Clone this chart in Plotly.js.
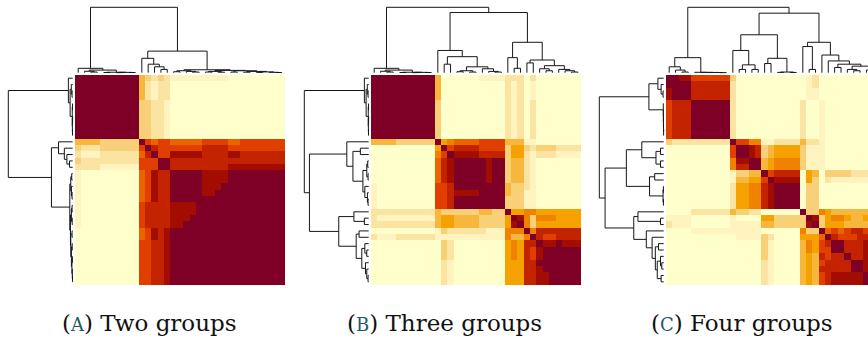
<!DOCTYPE html>
<html><head><meta charset="utf-8">
<script src="https://cdn.plot.ly/plotly-3.0.1.min.js"></script>
<style>html,body{margin:0;padding:0;background:#fff}#chart{width:868px;height:338px}</style>
</head><body><div id="chart"></div>
<script>
// colour level 0 (never together) ... 11 (always together)
const levelColors = ['#FFFFCC','#FFF3BF','#FBE3A1','#F8D078','#F7B63C','#F5A100','#F08200','#EC6400','#E03F00','#C42300','#A30C00','#7F0026'];

const captionLetters = ['A', 'B', 'C'];
const captionTexts = ['Two groups', 'Three groups', 'Four groups'];

// Panel A: co-clustering levels (33 x 33)
const matrixA = [
[11,11,11,11,11,11,11,11,11,11,4,3,2,3,2,1,1,1,1,1,1,1,1,1,0,0,0,0,0,0,0,0,0],
[11,11,11,11,11,11,11,11,11,11,4,2,1,2,2,0,0,0,0,0,0,0,0,0,0,0,0,0,0,0,0,0,0],
[11,11,11,11,11,11,11,11,11,11,4,2,1,2,2,0,0,0,0,0,0,0,0,0,0,0,0,0,0,0,0,0,0],
[11,11,11,11,11,11,11,11,11,11,4,2,1,2,2,0,0,0,0,0,0,0,0,0,0,0,0,0,0,0,0,0,0],
[11,11,11,11,11,11,11,11,11,11,3,3,2,2,1,0,0,0,0,0,0,0,0,0,0,0,0,0,0,0,0,0,0],
[11,11,11,11,11,11,11,11,11,11,3,3,2,2,1,0,0,0,0,0,0,0,0,0,0,0,0,0,0,0,0,0,0],
[11,11,11,11,11,11,11,11,11,11,3,3,2,2,1,0,0,0,0,0,0,0,0,0,0,0,0,0,0,0,0,0,0],
[11,11,11,11,11,11,11,11,11,11,3,3,2,2,1,0,0,0,0,0,0,0,0,0,0,0,0,0,0,0,0,0,0],
[11,11,11,11,11,11,11,11,11,11,3,3,2,2,1,0,0,0,0,0,0,0,0,0,0,0,0,0,0,0,0,0,0],
[11,11,11,11,11,11,11,11,11,11,3,3,2,2,1,0,0,0,0,0,0,0,0,0,0,0,0,0,0,0,0,0,0],
[4,4,4,4,3,3,3,3,3,3,11,8,7,8,8,7,7,7,7,7,8,8,8,8,7,7,8,8,8,8,8,8,8],
[3,2,2,2,3,3,3,3,3,3,8,11,9,8,8,8,8,8,8,8,9,9,9,9,8,8,8,8,8,8,8,8,8],
[2,1,1,1,2,2,2,2,2,2,7,9,11,8,8,10,10,10,10,10,9,9,9,9,10,10,9,9,9,9,9,9,9],
[3,2,2,2,2,2,2,2,2,2,8,8,8,11,11,9,9,9,9,9,9,9,9,9,9,9,9,9,9,9,9,9,9],
[2,2,2,2,1,1,1,1,1,1,8,8,8,11,11,9,9,9,9,9,9,9,9,9,10,10,10,10,10,10,10,10,10],
[1,0,0,0,0,0,0,0,0,0,7,8,10,9,9,11,11,11,11,11,10,10,10,10,11,11,11,11,11,11,11,11,11],
[1,0,0,0,0,0,0,0,0,0,7,8,10,9,9,11,11,11,11,11,10,10,10,10,11,11,11,11,11,11,11,11,11],
[1,0,0,0,0,0,0,0,0,0,7,8,10,9,9,11,11,11,11,11,10,10,10,11,11,11,11,11,11,11,11,11,11],
[1,0,0,0,0,0,0,0,0,0,7,8,10,9,9,11,11,11,11,11,10,10,11,11,11,11,11,11,11,11,11,11,11],
[1,0,0,0,0,0,0,0,0,0,7,8,10,9,9,11,11,11,11,11,11,11,11,11,11,11,11,11,11,11,11,11,11],
[1,0,0,0,0,0,0,0,0,0,8,9,9,9,9,10,10,10,10,11,11,11,11,11,11,11,11,11,11,11,11,11,11],
[1,0,0,0,0,0,0,0,0,0,8,9,9,9,9,10,10,10,10,11,11,11,11,11,11,11,11,11,11,11,11,11,11],
[1,0,0,0,0,0,0,0,0,0,8,9,9,9,9,10,10,10,11,11,11,11,11,11,11,11,11,11,11,11,11,11,11],
[1,0,0,0,0,0,0,0,0,0,8,9,9,9,9,10,10,11,11,11,11,11,11,11,11,11,11,11,11,11,11,11,11],
[0,0,0,0,0,0,0,0,0,0,7,8,10,9,10,11,11,11,11,11,11,11,11,11,11,11,11,11,11,11,11,11,11],
[0,0,0,0,0,0,0,0,0,0,7,8,10,9,10,11,11,11,11,11,11,11,11,11,11,11,11,11,11,11,11,11,11],
[0,0,0,0,0,0,0,0,0,0,8,8,9,9,10,11,11,11,11,11,11,11,11,11,11,11,11,11,11,11,11,11,11],
[0,0,0,0,0,0,0,0,0,0,8,8,9,9,10,11,11,11,11,11,11,11,11,11,11,11,11,11,11,11,11,11,11],
[0,0,0,0,0,0,0,0,0,0,8,8,9,9,10,11,11,11,11,11,11,11,11,11,11,11,11,11,11,11,11,11,11],
[0,0,0,0,0,0,0,0,0,0,8,8,9,9,10,11,11,11,11,11,11,11,11,11,11,11,11,11,11,11,11,11,11],
[0,0,0,0,0,0,0,0,0,0,8,8,9,9,10,11,11,11,11,11,11,11,11,11,11,11,11,11,11,11,11,11,11],
[0,0,0,0,0,0,0,0,0,0,8,8,9,9,10,11,11,11,11,11,11,11,11,11,11,11,11,11,11,11,11,11,11],
[0,0,0,0,0,0,0,0,0,0,8,8,9,9,10,11,11,11,11,11,11,11,11,11,11,11,11,11,11,11,11,11,11]
];

// Panel B
const matrixB = [
[11,11,11,11,11,11,11,11,11,11,4,0,0,0,0,0,0,1,1,1,1,2,2,2,0,2,0,0,0,0,0,0,0],
[11,11,11,11,11,11,11,11,11,11,4,0,0,0,0,0,0,0,0,0,0,2,1,2,0,1,0,0,0,0,0,0,0],
[11,11,11,11,11,11,11,11,11,11,4,0,0,0,0,0,0,0,0,0,0,2,1,2,0,1,0,0,0,0,0,0,0],
[11,11,11,11,11,11,11,11,11,11,4,0,0,0,0,0,0,0,0,0,0,2,1,2,0,1,0,0,0,0,0,0,0],
[11,11,11,11,11,11,11,11,11,11,3,0,0,0,0,0,0,0,0,0,0,2,1,2,0,2,0,0,0,0,0,0,0],
[11,11,11,11,11,11,11,11,11,11,3,0,0,0,0,0,0,0,0,0,0,2,1,2,0,2,0,0,0,0,0,0,0],
[11,11,11,11,11,11,11,11,11,11,3,0,0,0,0,0,0,0,0,0,0,2,1,2,0,2,0,0,0,0,0,0,0],
[11,11,11,11,11,11,11,11,11,11,3,0,0,0,0,0,0,0,0,0,0,2,1,2,0,2,0,0,0,0,0,0,0],
[11,11,11,11,11,11,11,11,11,11,3,0,0,0,0,0,0,0,0,0,0,2,1,2,0,2,0,0,0,0,0,0,0],
[11,11,11,11,11,11,11,11,11,11,3,0,0,0,0,0,0,0,0,0,0,2,1,2,0,2,0,0,0,0,0,0,0],
[4,4,4,4,3,3,3,3,3,3,11,5,6,7,7,7,7,8,8,8,8,4,4,4,1,1,0,0,0,0,0,0,0],
[0,0,0,0,0,0,0,0,0,0,5,11,8,9,9,9,9,8,8,8,8,3,5,5,3,2,3,3,3,2,2,2,2],
[0,0,0,0,0,0,0,0,0,0,6,8,11,10,10,10,10,9,9,9,9,3,5,5,2,1,2,2,2,1,1,1,1],
[0,0,0,0,0,0,0,0,0,0,7,9,10,11,11,11,11,11,10,11,11,3,4,4,2,1,0,0,0,0,0,0,0],
[0,0,0,0,0,0,0,0,0,0,7,9,10,11,11,11,11,11,10,11,11,3,4,4,2,1,0,0,0,0,0,0,0],
[0,0,0,0,0,0,0,0,0,0,7,9,10,11,11,11,11,11,10,11,11,3,4,4,2,1,0,0,0,0,0,0,0],
[0,0,0,0,0,0,0,0,0,0,7,9,10,11,11,11,11,11,10,11,11,3,4,4,2,1,0,0,0,0,0,0,0],
[1,0,0,0,0,0,0,0,0,0,8,8,9,11,11,11,11,11,11,11,11,4,3,3,2,1,0,0,0,0,0,0,0],
[1,0,0,0,0,0,0,0,0,0,8,8,9,10,10,10,10,11,11,11,11,4,3,3,1,1,0,0,0,0,0,0,0],
[1,0,0,0,0,0,0,0,0,0,8,8,9,11,11,11,11,11,11,11,11,3,3,3,1,1,0,0,0,0,0,0,0],
[1,0,0,0,0,0,0,0,0,0,8,8,9,11,11,11,11,11,11,11,11,3,3,3,1,1,0,0,0,0,0,0,0],
[2,2,2,2,2,2,2,2,2,2,4,3,3,3,3,3,3,4,4,3,3,11,5,5,6,6,5,5,5,5,5,5,5],
[2,1,1,1,1,1,1,1,1,1,4,5,5,4,4,4,4,3,3,3,3,5,11,10,6,3,6,6,6,5,5,5,5],
[2,2,2,2,2,2,2,2,2,2,4,5,5,4,4,4,4,3,3,3,3,5,10,11,6,3,5,5,5,5,5,5,5],
[0,0,0,0,0,0,0,0,0,0,1,3,2,2,2,2,2,2,1,1,1,6,6,6,11,6,9,9,9,9,9,9,9],
[2,1,1,1,2,2,2,2,2,2,1,1,1,1,1,1,1,1,1,1,1,6,4,4,6,11,9,8,8,9,9,9,9],
[0,0,0,0,0,0,0,0,0,0,0,3,2,0,0,0,0,0,0,0,0,5,6,5,9,9,11,10,10,11,10,10,10],
[0,0,0,0,0,0,0,0,0,0,0,3,2,0,0,0,0,0,0,0,0,5,6,5,9,8,10,11,11,11,11,11,11],
[0,0,0,0,0,0,0,0,0,0,0,3,2,0,0,0,0,0,0,0,0,5,6,5,9,8,10,11,11,11,11,11,11],
[0,0,0,0,0,0,0,0,0,0,0,2,1,0,0,0,0,0,0,0,0,5,5,5,9,9,11,11,11,11,11,11,11],
[0,0,0,0,0,0,0,0,0,0,0,2,1,0,0,0,0,0,0,0,0,5,5,5,9,9,10,11,11,11,11,11,11],
[0,0,0,0,0,0,0,0,0,0,0,2,1,0,0,0,0,0,0,0,0,5,5,5,9,9,10,10,11,11,11,11,11],
[0,0,0,0,0,0,0,0,0,0,0,2,1,0,0,0,0,0,0,0,0,5,5,5,9,9,10,10,11,11,11,11,11]
];

// Panel C
const matrixC = [
[11,11,10,10,8,8,8,8,8,8,3,0,0,0,0,0,0,0,0,0,0,0,1,2,0,0,0,0,0,0,0,0,0],
[11,11,11,11,9,9,9,9,9,9,2,0,0,0,0,0,0,0,0,0,0,0,1,2,0,0,0,0,0,0,0,0,0],
[10,11,11,11,9,9,9,9,9,9,2,0,0,0,0,0,0,0,0,0,0,0,1,1,0,0,0,0,0,0,0,0,0],
[10,11,11,11,9,9,9,9,9,9,2,0,0,0,0,0,0,0,0,0,0,0,1,1,0,0,0,0,0,0,0,0,0],
[8,9,9,9,11,11,11,11,11,11,2,0,0,0,0,0,0,0,0,0,0,2,0,0,1,0,0,0,0,0,0,0,0],
[8,9,9,9,11,11,11,11,11,11,2,0,0,0,0,0,0,0,0,0,0,2,0,0,1,0,0,0,0,0,0,0,0],
[8,9,9,9,11,11,11,11,11,11,2,0,0,0,0,0,0,0,0,0,0,2,0,0,1,0,0,0,0,0,0,0,0],
[8,9,9,9,11,11,11,11,11,11,2,0,0,0,0,0,0,0,0,0,0,2,0,0,1,0,0,0,0,0,0,0,0],
[8,9,9,9,11,11,11,11,11,11,2,0,0,0,0,0,0,0,0,0,0,2,0,0,1,0,0,0,0,0,0,0,0],
[8,9,9,9,11,11,11,11,11,11,2,0,0,0,0,0,0,0,0,0,0,2,0,0,1,0,0,0,0,0,0,0,0],
[3,2,2,2,2,2,2,2,2,2,11,8,8,6,6,1,1,2,2,2,2,4,2,2,1,0,0,0,0,0,0,0,0],
[0,0,0,0,0,0,0,0,0,0,8,11,11,10,9,3,4,5,5,5,5,3,1,1,1,0,0,0,0,0,0,0,0],
[0,0,0,0,0,0,0,0,0,0,8,11,11,10,9,3,4,5,5,5,5,3,1,1,1,0,0,0,0,0,0,0,0],
[0,0,0,0,0,0,0,0,0,0,6,10,10,11,11,4,5,6,6,6,6,3,1,1,1,0,0,0,0,0,0,0,0],
[0,0,0,0,0,0,0,0,0,0,6,9,9,11,11,4,5,6,6,6,6,3,1,1,1,0,0,0,0,0,0,0,0],
[0,0,0,0,0,0,0,0,0,0,1,3,3,4,4,11,8,9,9,9,9,0,5,4,0,3,3,3,3,2,2,2,2],
[0,0,0,0,0,0,0,0,0,0,1,4,4,5,5,8,11,10,10,10,10,0,5,3,0,2,1,1,1,1,1,1,1],
[0,0,0,0,0,0,0,0,0,0,2,5,5,6,6,9,10,11,11,11,11,0,3,3,0,0,0,0,0,0,0,0,0],
[0,0,0,0,0,0,0,0,0,0,2,5,5,6,6,9,10,11,11,11,11,0,3,3,0,0,0,0,0,0,0,0,0],
[0,0,0,0,0,0,0,0,0,0,2,5,5,6,6,9,10,11,11,11,11,0,3,3,0,0,0,0,0,0,0,0,0],
[0,0,0,0,0,0,0,0,0,0,2,5,5,6,6,9,10,11,11,11,11,0,3,3,0,0,0,0,0,0,0,0,0],
[0,0,0,0,2,2,2,2,2,2,4,3,3,2,2,0,0,0,0,0,0,11,3,3,6,5,4,4,4,4,4,4,4],
[1,1,1,1,0,0,0,0,0,0,1,0,0,0,0,5,5,3,3,3,3,3,11,10,3,5,6,6,5,4,4,5,5],
[2,1,1,1,0,0,0,0,0,0,1,1,1,1,1,4,4,3,3,3,3,3,10,11,3,5,5,5,4,4,4,4,4],
[0,0,0,0,1,1,1,1,1,1,1,1,1,1,1,0,0,0,0,0,0,6,3,3,11,7,8,7,8,9,9,8,8],
[0,0,0,0,0,0,0,0,0,0,0,1,1,1,1,3,2,0,0,0,0,5,5,5,7,11,9,8,8,8,9,9,9],
[0,0,0,0,0,0,0,0,0,0,0,0,0,0,0,3,1,0,0,0,0,4,6,5,8,9,11,11,9,9,9,10,10],
[0,0,0,0,0,0,0,0,0,0,0,0,0,0,0,3,1,0,0,0,0,4,6,5,8,8,11,11,9,9,9,10,10],
[0,0,0,0,0,0,0,0,0,0,0,0,0,0,0,3,1,0,0,0,0,4,5,4,9,8,9,9,11,9,9,10,10],
[0,0,0,0,0,0,0,0,0,0,0,0,0,0,0,2,1,0,0,0,0,4,5,4,8,9,9,9,9,11,11,10,10],
[0,0,0,0,0,0,0,0,0,0,0,0,0,0,0,2,1,0,0,0,0,4,5,4,9,9,9,9,9,11,11,10,10],
[0,0,0,0,0,0,0,0,0,0,0,0,0,0,0,2,1,0,0,0,0,4,5,4,8,9,10,10,10,10,10,11,11],
[0,0,0,0,0,0,0,0,0,0,0,0,0,0,0,2,1,0,0,0,0,4,5,4,8,9,10,10,10,10,10,11,11]
];

// Dendrograms: [height, left, right]; leaves are sample indices 0..32 in display order
const treeA = [1.0,
  [0.067, 0, [0.04, [0.022, 1, [0.01, 2, 3]], [0.007, [0.003, 4, 5], [0.005, [0.002, 6, 7], [0.003, 8, 9]]]]],
  [0.33,
    [0.22, 10, [0.13, 11, [0.09, 12, [0.05, 13, 14]]]],
    [0.045,
      [0.03, [0.015, 15, 16], [0.02, 17, [0.01, 18, 19]]],
      [0.035, [0.02, [0.01, 20, 21], [0.008, 22, 23]],
        [0.03, [0.01, 24, 25], [0.02, [0.008, 26, 27], [0.012, [0.005, 28, 29], [0.006, 30, [0.003, 31, 32]]]]]]]]];

const treeB = [1.0,
  [0.067, 0, [0.04, [0.022, 1, [0.01, 2, 3]], [0.007, [0.003, 4, 5], [0.005, [0.002, 6, 7], [0.003, 8, 9]]]]],
  [0.92,
    [0.34, 10, [0.245, [0.13, 11, 12], [0.09, [0.03, [0.015, 13, 14], [0.01, 15, 16]], [0.06, 17, [0.02, 18, [0.01, 19, 20]]]]]],
    [0.465,
      [0.23, 21, [0.067, 22, 23]],
      [0.194, [0.15, 24, 25], [0.107, [0.06, 26, [0.03, 27, 28]], [0.05, 29, [0.03, 30, [0.01, 31, 32]]]]]]]];

const treeC = [1.0,
  [0.23, [0.09, 0, [0.04, 1, [0.01, 2, 3]]], [0.006, 4, [0.005, 5, [0.004, 6, [0.003, 7, [0.002, 8, 9]]]]]],
  [0.91,
    [0.58,
      [0.34, 10, [0.12, [0.05, 11, 12], [0.05, 13, 14]]],
      [0.22, [0.14, 15, 16], [0.01, [0.005, 17, 18], [0.004, 19, 20]]]],
    [0.465,
      [0.40, 21, [0.05, 22, 23]],
      [0.27, 24, [0.18, 25, [0.13, [0.08, 26, 27], [0.1, [0.05, 28, [0.03, 29, 30]], [0.04, 31, 32]]]]]]]];

const matrices = [matrixA, matrixB, matrixC];
const trees = [treeA, treeB, treeC];

// ---------- layout geometry (pixels) ----------
const W = 868, H = 338;
const heatTop = 75, heatBottom = 285, heatSize = 210, nCells = 33;
const heatLeft = [75, 371, 666];
const cell = heatSize / nCells;
const topLeaf = 72.7, topRoot = 7.3;       // top dendrogram: h=0 at leaves, h=1 at root
const leftGap = 2.3, leftSpan = 64.4;      // left dendrogram

const colorscale = levelColors.map((c, i) => [i / (levelColors.length - 1), c]);

function dendro(tree, orient, xa, ya) {
  const xs = [], ys = [];
  function walk(n) {
    if (typeof n === 'number') return {p: n, h: 0};
    const a = walk(n[1]), b = walk(n[2]), h = n[0];
    [[a.p, a.h], [a.p, h], [b.p, h], [b.p, b.h]].forEach(([p, hh]) => {
      if (orient === 'top') { xs.push(p); ys.push(hh); } else { xs.push(hh); ys.push(p); }
    });
    xs.push(null); ys.push(null);
    return {p: (a.p + b.p) / 2, h: h};
  }
  walk(tree);
  return {type: 'scatter', mode: 'lines', x: xs, y: ys, xaxis: xa, yaxis: ya,
          line: {color: '#161616', width: 1}, hoverinfo: 'skip', showlegend: false};
}

const data = [];
const layout = {
  width: W, height: H, margin: {l: 0, r: 0, t: 0, b: 0},
  paper_bgcolor: '#ffffff', plot_bgcolor: 'rgba(0,0,0,0)', showlegend: false,
  font: {family: 'DejaVu Serif, serif'},
  annotations: []
};
const hidden = {visible: false, fixedrange: true, showgrid: false, zeroline: false};
const yHeatDom = [1 - heatBottom / H, 1 - heatTop / H];
const hPad = [-0.03, 1.02];

for (let p = 0; p < 3; p++) {
  const X0 = heatLeft[p];
  const xRight = Math.min(X0 + heatSize, W);
  const xMax = -0.5 + (xRight - X0) / cell;
  const xDom = [X0 / W, xRight / W];
  const k = 3 * p;
  const id = i => (i === 1 ? '' : String(i));
  const hx = 'x' + id(k + 1), hy = 'y' + id(k + 1);
  const tx = 'x' + id(k + 2), ty = 'y' + id(k + 2);
  const lx = 'x' + id(k + 3), ly = 'y' + id(k + 3);

  data.push({type: 'heatmap', z: matrices[p], xaxis: hx, yaxis: hy, colorscale: colorscale,
             zmin: 0, zmax: levelColors.length - 1, showscale: false, hoverinfo: 'skip'});
  data.push(dendro(trees[p], 'top', tx, ty));
  data.push(dendro(trees[p], 'left', lx, ly));

  const tScale = topLeaf - topRoot;
  const tTopPx = topLeaf - hPad[1] * tScale, tBotPx = topLeaf - hPad[0] * tScale;
  const lRightPx = X0 - leftGap - hPad[0] * leftSpan, lLeftPx = X0 - leftGap - hPad[1] * leftSpan;

  layout['xaxis' + id(k + 1)] = Object.assign({}, hidden, {domain: xDom, range: [-0.5, xMax], anchor: hy});
  layout['yaxis' + id(k + 1)] = Object.assign({}, hidden, {domain: yHeatDom, range: [nCells - 0.5, -0.5], anchor: hx});
  layout['xaxis' + id(k + 2)] = Object.assign({}, hidden, {domain: xDom, range: [-0.5, xMax], anchor: ty});
  layout['yaxis' + id(k + 2)] = Object.assign({}, hidden, {domain: [1 - tBotPx / H, 1 - tTopPx / H], range: hPad, anchor: tx});
  layout['xaxis' + id(k + 3)] = Object.assign({}, hidden, {domain: [lLeftPx / W, lRightPx / W], range: [hPad[1], hPad[0]], anchor: ly});
  layout['yaxis' + id(k + 3)] = Object.assign({}, hidden, {domain: yHeatDom, range: [nCells - 0.5, -0.5], anchor: lx});
}

const capCenters = [149.5, 444.5, 742];
for (let p = 0; p < 3; p++) {
  layout.annotations.push({
    xref: 'paper', yref: 'paper', x: capCenters[p] / W, y: 1 - 323 / H,
    xanchor: 'center', yanchor: 'middle', showarrow: false,
    text: '(<span style="color:#22586b;font-size:18px">' + captionLetters[p] + '</span>) ' + captionTexts[p],
    font: {family: 'DejaVu Serif, serif', size: 23, color: '#111111'}
  });
}

Plotly.newPlot('chart', data, layout, {staticPlot: true, displayModeBar: false});
</script>
</body></html>
